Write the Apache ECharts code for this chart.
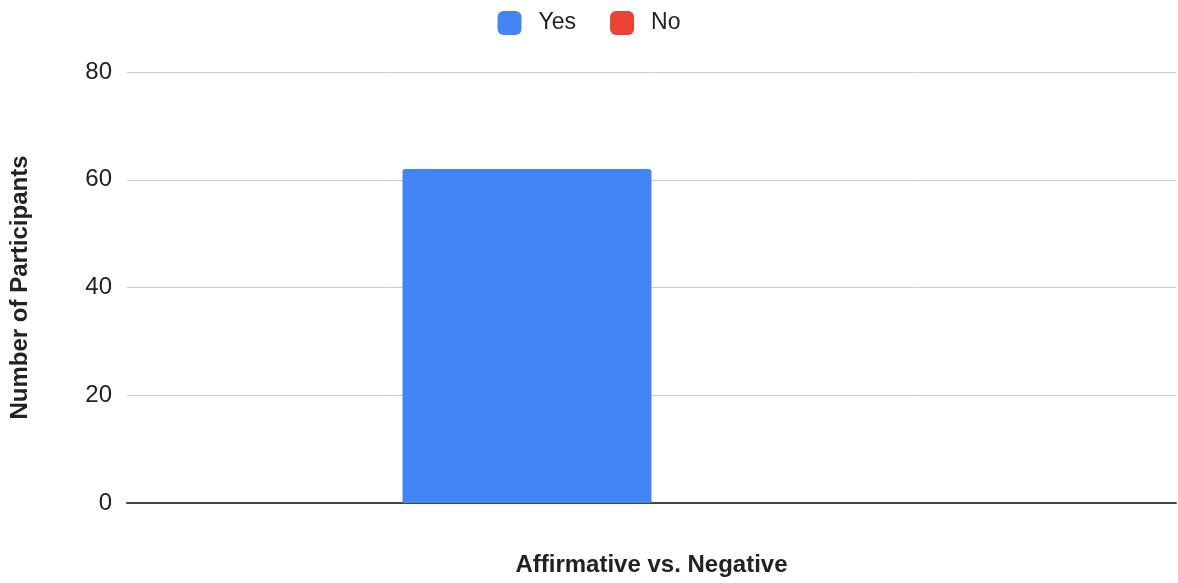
<!DOCTYPE html>
<html>
<head>
<meta charset="utf-8">
<script src="https://cdn.jsdelivr.net/npm/echarts@6/dist/echarts.min.js"></script>
<style>
  html, body { margin: 0; padding: 0; background: #fff; }
  #main { width: 1178px; height: 583px; }
</style>
</head>
<body>
<div id="main"></div>
<script>
// 数据
var categories = ['Affirmative vs. Negative'];
var yesValues = [62];
var noValues = [0];
var yTicks = { min: 0, max: 80, interval: 20 };

var FONT = '"Liberation Sans", Arial, sans-serif';

var chart = echarts.init(document.getElementById('main'));

function getBarOption() {
  return {
    animation: false,
    legend: {
      top: 6,
      left: 'center',
      itemWidth: 24,
      itemHeight: 24,
      itemGap: 34,
      icon: 'roundRect',
      textStyle: {
        fontFamily: FONT,
        fontSize: 23,
        color: '#222',
        padding: [0, 0, 0, 12]
      },
      data: ['Yes', 'No']
    },
    grid: {
      left: 127,
      right: 2,
      top: 72,
      bottom: 80,
      outerBoundsMode: 'none',
      containLabel: false
    },
    xAxis: {
      type: 'category',
      data: categories,
      name: 'Affirmative vs. Negative',
      nameLocation: 'middle',
      nameGap: 50,
      nameTextStyle: {
        fontFamily: FONT,
        fontSize: 24,
        fontWeight: 'bold',
        color: '#222'
      },
      axisLabel: { show: false },
      axisTick: { show: false },
      axisLine: {
        lineStyle: { color: '#444', width: 2 }
      }
    },
    yAxis: {
      type: 'value',
      min: yTicks.min,
      max: yTicks.max,
      interval: yTicks.interval,
      name: 'Number of Participants',
      nameLocation: 'middle',
      nameGap: 95,
      nameTextStyle: {
        fontFamily: FONT,
        fontSize: 24,
        fontWeight: 'bold',
        color: '#222'
      },
      axisLine: { show: false },
      axisTick: { show: false },
      axisLabel: {
        fontFamily: FONT,
        fontSize: 24,
        color: '#222',
        margin: 15
      },
      splitLine: {
        lineStyle: { color: '#ccc', width: 1 }
      }
    },
    series: [
      {
        name: 'Yes',
        type: 'bar',
        data: yesValues,
        barWidth: 249,
        barGap: 0,
        itemStyle: { color: '#4285F4', borderRadius: [3, 3, 0, 0] }
      },
      {
        name: 'No',
        type: 'bar',
        data: noValues,
        barWidth: 249,
        barGap: 0,
        itemStyle: { color: '#EA4335', borderRadius: [3, 3, 0, 0] }
      }
    ]
  };
}

chart.setOption(getBarOption());
</script>
</body>
</html>
